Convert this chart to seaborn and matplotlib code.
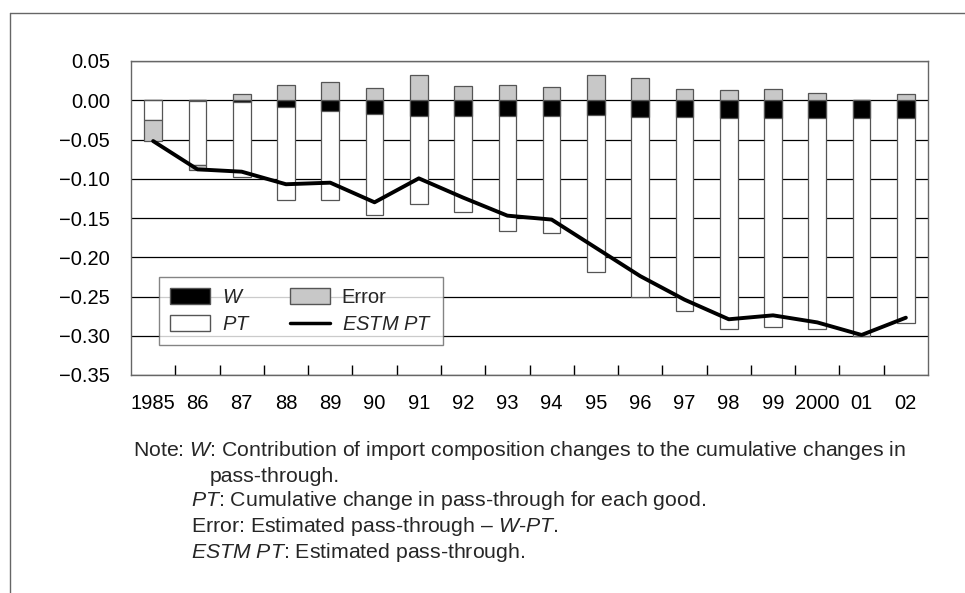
import numpy as np
import pandas as pd
import matplotlib
matplotlib.use("Agg")
import matplotlib.pyplot as plt
import seaborn as sns
from matplotlib.patches import Patch
from matplotlib.lines import Line2D

# ---- data ----
years = ["1985", "86", "87", "88", "89", "90", "91", "92", "93", "94",
         "95", "96", "97", "98", "99", "2000", "01", "02"]
W = [0.0, -0.001, -0.002, -0.008, -0.0136, -0.018, -0.020, -0.0195, -0.0195,
     -0.0195, -0.0186, -0.0208, -0.0212, -0.0229, -0.0229, -0.022, -0.022, -0.022]
PT = [-0.025, -0.0816, -0.096, -0.119, -0.1134, -0.1278, -0.1118, -0.1225, -0.147,
      -0.1491, -0.2001, -0.2302, -0.2473, -0.2691, -0.2656, -0.270, -0.278, -0.262]
Error = [-0.0267, -0.0064, 0.008, 0.020, 0.023, 0.016, 0.032, 0.018, 0.0195,
         0.0165, 0.0326, 0.028, 0.0144, 0.0131, 0.014, 0.0089, 0.0, 0.0076]
ESTM_PT = [-0.052, -0.088, -0.091, -0.107, -0.105, -0.130, -0.0995, -0.124, -0.147,
           -0.152, -0.188, -0.224, -0.254, -0.279, -0.274, -0.283, -0.299, -0.277]
yticks = [0.05, 0.00, -0.05, -0.10, -0.15, -0.20, -0.25, -0.30, -0.35]

sns.set_theme(style="white")
plt.rcParams["font.family"] = ["Liberation Sans", "DejaVu Sans"]
plt.rcParams["mathtext.fontset"] = "custom"
plt.rcParams["mathtext.rm"] = "Liberation Sans"
plt.rcParams["mathtext.it"] = "Liberation Sans:italic"

FS = 14.5
NFS = 15.3
EDGE = "#555555"
GRAY = "#c8c8c8"

df = pd.DataFrame({"year": years, "W": W, "PT": PT, "Error": Error, "ESTM": ESTM_PT})
df["wpt"] = df["W"] + df["PT"]
df["err_bottom"] = np.where(df["Error"] > 0, 0.0, df["wpt"])

fig = plt.figure(figsize=(9.65, 5.93), dpi=100)
ax = fig.add_axes([131 / 965, 1 - 375 / 593, (928 - 131) / 965, (375 - 61) / 593])

bw = 0.4
sns.barplot(data=df, x="year", y="wpt", color="white", edgecolor=EDGE,
            linewidth=0.9, width=bw, saturation=1, ax=ax, zorder=2)
sns.barplot(data=df, x="year", y="W", color="black", edgecolor=EDGE,
            linewidth=0.9, width=bw, saturation=1, ax=ax, zorder=3)
pos = np.arange(len(years))
ax.bar(pos, df["Error"], bottom=df["err_bottom"], width=bw, color=GRAY,
       edgecolor=EDGE, linewidth=0.9, zorder=3)
sns.lineplot(x=pos, y=df["ESTM"], color="black", lw=2.8, ax=ax, zorder=4)

ax.set_xlim(-0.5, len(years) - 0.5)
ax.set_ylim(-0.35, 0.05)
ax.set_yticks(yticks)
ax.set_yticklabels([f"{v:.2f}".replace("-", "\u2212") for v in yticks], fontsize=FS)
ax.set_xticks(pos)
ax.set_xticklabels(years, fontsize=FS)
ax.set_xlabel("")
ax.set_ylabel("")
ax.set_xticks(np.arange(0.5, len(years) - 1, 1.0), minor=True)
ax.tick_params(axis="x", which="major", length=0, pad=14, colors="black")
ax.tick_params(axis="x", which="minor", direction="in", length=7, width=1,
               color="black", bottom=True)
ax.tick_params(axis="y", length=0, pad=15, colors="black")
for lab in ax.get_yticklabels() + ax.get_xticklabels():
    lab.set_color("black")

ax.set_axisbelow(True)
ax.yaxis.grid(True, color="black", lw=0.9)
ax.xaxis.grid(False)
for s in ax.spines.values():
    s.set_visible(True)
    s.set_color("#666666")
    s.set_linewidth(1.0)

handles = [Patch(facecolor="black", edgecolor=EDGE),
           Patch(facecolor="white", edgecolor=EDGE),
           Patch(facecolor=GRAY, edgecolor=EDGE),
           Line2D([0], [0], color="black", lw=2.5)]
labels = [r"$\mathit{W}$", r"$\mathit{PT}$", "Error", r"$\mathit{ESTM\ PT}$"]
leg = ax.legend(handles, labels, ncol=2, loc="lower left",
                bbox_to_anchor=(0.035, 0.0955), borderaxespad=0, fontsize=FS,
                frameon=True, fancybox=False, edgecolor="#666666",
                handlelength=2.0, handleheight=0.8, handletextpad=0.6,
                columnspacing=1.9, labelspacing=0.4, borderpad=0.55)
leg.get_frame().set_linewidth(1.0)
leg.set_zorder(5)

# notes
def fy(y):
    return 1 - y / 593

def fx(x):
    return x / 965

fig.text(fx(133), fy(450), r"Note: $\mathit{W}$: Contribution of import composition changes to the cumulative changes in",
         fontsize=NFS, va="center", ha="left")
fig.text(fx(210), fy(476), "pass-through.", fontsize=NFS, va="center", ha="left")
fig.text(fx(191), fy(501), r"$\mathit{PT}$: Cumulative change in pass-through for each good.",
         fontsize=NFS, va="center", ha="left")
fig.text(fx(191), fy(527), "Error: Estimated pass-through \u2013 " + r"$\mathit{W}$-$\mathit{PT}$.",
         fontsize=NFS, va="center", ha="left")
fig.text(fx(191), fy(552), r"$\mathit{ESTM\ PT}$: Estimated pass-through.",
         fontsize=NFS, va="center", ha="left")

# outer frame (top and left)
fig.add_artist(Line2D([fx(10), 1.0], [fy(13), fy(13)], color="#666666", lw=1.0))
fig.add_artist(Line2D([fx(10), fx(10)], [fy(13), 0.0], color="#666666", lw=1.0))

fig.savefig("out.png", dpi=100)
